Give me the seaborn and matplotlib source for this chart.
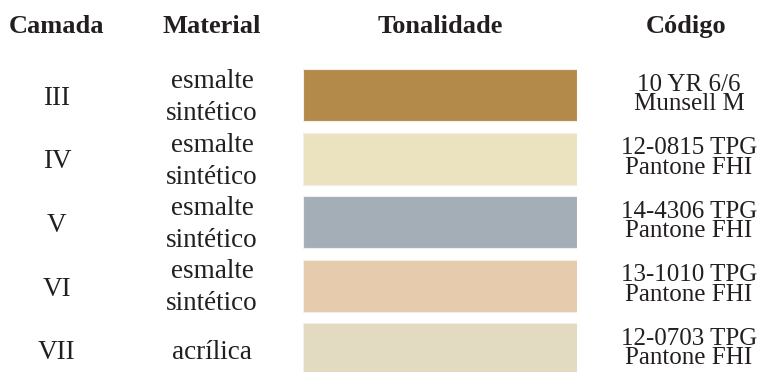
import matplotlib
matplotlib.use('Agg')
import matplotlib.pyplot as plt
import seaborn as sns
import pandas as pd

# table content
camadas = ['III', 'IV', 'V', 'VI', 'VII']
materiais = [['esmalte', 'sintético'], ['esmalte', 'sintético'], ['esmalte', 'sintético'],
             ['esmalte', 'sintético'], ['acrílica']]
cores = ['#B38A4A', '#EBE3C0', '#A3AEB7', '#E6CBAD', '#E2DAC1']
codigos = [['10 YR 6/6', 'Munsell M'], ['12-0815 TPG', 'Pantone FHI'], ['14-4306 TPG', 'Pantone FHI'],
           ['13-1010 TPG', 'Pantone FHI'], ['12-0703 TPG', 'Pantone FHI']]
cabecalhos = ['Camada', 'Material', 'Tonalidade', 'Código']

sns.set_theme(style='white')
plt.rcParams['font.family'] = ['Liberation Serif', 'DejaVu Serif']

W, H = 765, 372
PITCH = 63.5          # pixels per row
ROW0 = 95             # pixel centre of first row
ylim = ((H - ROW0) / PITCH, (0 - ROW0) / PITCH)

def px(d):
    return d / PITCH

fig = plt.figure(figsize=(W / 100, H / 100), dpi=100)
fig.patch.set_facecolor('white')

# swatch column
ax_sw = fig.add_axes([303 / W, 0, 274 / W, 1])
df = pd.DataFrame({'row': range(len(camadas)), 'camada': camadas, 'val': [1] * len(camadas)})
sns.barplot(data=df, x='val', y='row', hue='camada', palette=cores, orient='h',
            native_scale=True, width=52 / PITCH, legend=False, ax=ax_sw,
            edgecolor='#f4efe6', linewidth=0.8, saturation=1)
ax_sw.set_xlim(0, 1)
ax_sw.set_ylim(*ylim)
ax_sw.axis('off')

# text overlay
ax = fig.add_axes([0, 0, 1, 1], facecolor='none')
ax.set_xlim(0, W)
ax.set_ylim(*ylim)
ax.axis('off')

txt = '#231f20'
col_x = [57, 212, 440, 686]
for x, h in zip(col_x, cabecalhos):
    ax.text(x, px(33 - ROW0), h, ha='center', va='baseline', fontsize=19,
            fontweight='bold', color=txt)

for i, (cam, mat, cod) in enumerate(zip(camadas, materiais, codigos)):
    ax.text(col_x[0], i + px(10), cam, ha='center', va='baseline', fontsize=19.5, color=txt)
    if len(mat) == 2:
        ax.text(col_x[1], i + px(-7), mat[0], ha='center', va='baseline', fontsize=19.5, color=txt)
        ax.text(col_x[1], i + px(25), mat[1], ha='center', va='baseline', fontsize=19.5, color=txt)
    else:
        ax.text(col_x[1], i + px(10), mat[0], ha='center', va='baseline', fontsize=19.5, color=txt)
    # code lines set tight, as one two-line text
    ax.text(689, i + px(-0.5), '\n'.join(cod), ha='center', va='center', fontsize=18,
            linespacing=0.85, multialignment='center', color=txt)

fig.savefig('out.png', dpi=100, facecolor='white')
